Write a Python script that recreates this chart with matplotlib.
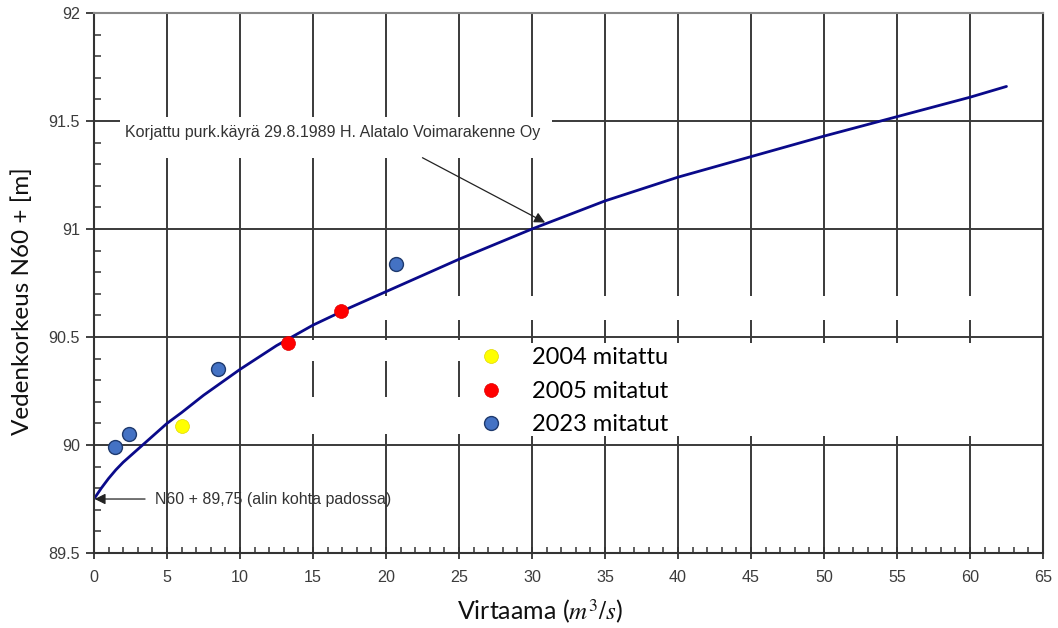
import matplotlib
matplotlib.use('Agg')
import matplotlib.pyplot as plt
from matplotlib.lines import Line2D
from matplotlib.patches import Rectangle
from matplotlib.ticker import MultipleLocator

plt.rcParams['mathtext.fontset'] = 'stix'

# ---- data ----
curve_q = [0, 0.5, 1, 1.5, 2, 3, 4, 5, 6, 7.5, 10, 12.5, 15, 17.5, 20, 22.5, 25, 27.5,
           30, 35, 40, 45, 50, 55, 60, 62.5]
curve_h = [89.75, 89.80, 89.845, 89.885, 89.92, 89.98, 90.04, 90.10, 90.15, 90.23,
           90.35, 90.46, 90.555, 90.635, 90.71, 90.785, 90.86, 90.93, 91.00,
           91.13, 91.24, 91.335, 91.43, 91.52, 91.61, 91.66]

q_2004 = [6.0]
h_2004 = [90.09]
q_2005 = [13.3, 16.9]
h_2005 = [90.47, 90.62]
q_2023 = [1.45, 2.4, 8.5, 20.7]
h_2023 = [89.99, 90.05, 90.35, 90.84]

x_ticks = list(range(0, 70, 5))
y_ticks = [89.5, 90, 90.5, 91, 91.5, 92]
y_tick_labels = ['89.5', '90', '90.5', '91', '91.5', '92']
legend_labels = ['2004 mitattu', '2005 mitatut', '2023 mitatut']
curve_label = 'Korjattu purk.käyrä 29.8.1989 H. Alatalo Voimarakenne Oy'
base_label = 'N60 + 89,75 (alin kohta padossa)'
x_label = 'Virtaama ($m^3/s$)'
y_label = 'Vedenkorkeus N60 + [m]'

# white patches of the scanned original that hide parts of the grid (x0, y0, w, h)
masks = [(1.8, 91.33, 29.6, 0.19),
         (17.5, 90.58, 47.0, 0.11),
         (12.5, 90.39, 15.0, 0.095),
         (12.5, 90.05, 15.0, 0.17),
         (27.5, 90.04, 37.0, 0.43)]

# ---- figure ----
fig = plt.figure(figsize=(10.58, 6.28), dpi=100)
ax = fig.add_axes([0.0888, 0.1194, 0.8970, 0.8599])

ax.set_xlim(0, 65)
ax.set_ylim(89.5, 92)
ax.set_xticks(x_ticks)
ax.set_yticks(y_ticks)
ax.set_yticklabels(y_tick_labels)
ax.xaxis.set_minor_locator(MultipleLocator(1))
ax.yaxis.set_minor_locator(MultipleLocator(0.1))
ax.set_axisbelow(True)
ax.grid(True, which='major', color='#3a3a3a', lw=1.4)

ax.tick_params(axis='both', which='major', labelsize=11.6,
               labelfontfamily='Liberation Sans', labelcolor='#3c3c3c')
ax.tick_params(axis='x', which='major', direction='inout', length=8, width=1.3,
               color='#333', pad=8)
ax.tick_params(axis='x', which='minor', direction='in', length=4, width=1.1, color='#333')
ax.tick_params(axis='y', which='major', direction='out', length=6, width=1.3,
               color='#333', pad=4)
ax.tick_params(axis='y', which='minor', direction='in', length=5, width=1.1, color='#333')

for side in ['left', 'bottom', 'right']:
    ax.spines[side].set_color('#333')
    ax.spines[side].set_linewidth(1.5)
ax.spines['top'].set_color('#888')
ax.spines['top'].set_linewidth(1.5)

for (x0, y0, w, h) in masks:
    ax.add_patch(Rectangle((x0, y0), w, h, facecolor='white', edgecolor='none', zorder=1))

ax.plot(curve_q, curve_h, color='#0a0a8a', lw=2.0, zorder=2, solid_capstyle='round',
        solid_joinstyle='round')

ax.scatter(q_2004, h_2004, s=100, color='#FFFF00', edgecolors='#e0d800', linewidths=0.5, zorder=3)
ax.scatter(q_2005, h_2005, s=100, color='#FF0000', edgecolors='#e00000', linewidths=0.5, zorder=3)
ax.scatter(q_2023, h_2023, s=100, color='#4472C4', edgecolors='#1f3a6e', linewidths=1.0, zorder=3)

# annotations
ax.text(2.1, 91.445, curve_label, fontsize=11.5, family='Liberation Sans',
        color='#333', va='center', ha='left', zorder=4)
ax.annotate('', xy=(30.9, 91.03), xytext=(22.5, 91.33),
            arrowprops=dict(arrowstyle='-|>', color='#222', lw=0.9,
                            mutation_scale=16, shrinkA=0, shrinkB=0), zorder=4)
ax.text(4.2, 89.75, base_label, fontsize=11.5, family='Liberation Sans',
        color='#333', va='center', ha='left', zorder=4)
ax.annotate('', xy=(0.05, 89.75), xytext=(3.5, 89.75),
            arrowprops=dict(arrowstyle='-|>', color='#222', lw=0.9,
                            mutation_scale=16, shrinkA=0, shrinkB=0), zorder=4)

# legend
handles = [
    Line2D([], [], ls='none', marker='o', markersize=10, markerfacecolor='#FFFF00', markeredgecolor='#e0d800', markeredgewidth=0.5),
    Line2D([], [], ls='none', marker='o', markersize=10, markerfacecolor='#FF0000', markeredgecolor='#e00000', markeredgewidth=0.5),
    Line2D([], [], ls='none', marker='o', markersize=10, markerfacecolor='#4472C4', markeredgecolor='#1f3a6e', markeredgewidth=1.0),
]
leg = ax.legend(handles, legend_labels, loc='upper left', bbox_to_anchor=(0.4057, 0.381),
                frameon=False, prop=dict(family='Lato', size=17), handlelength=1.0,
                handletextpad=1.25, labelspacing=0.53, borderpad=0, borderaxespad=0)
leg.set_zorder(5)

ax.set_xlabel(x_label, fontsize=18, family='Lato', color='#111')
ax.xaxis.set_label_coords(0.47, -0.083)
ax.set_ylabel(y_label, fontsize=17.5, family='Lato', color='#111')
ax.yaxis.set_label_coords(-0.064, 0.467)

fig.savefig('out.png', dpi=100)
